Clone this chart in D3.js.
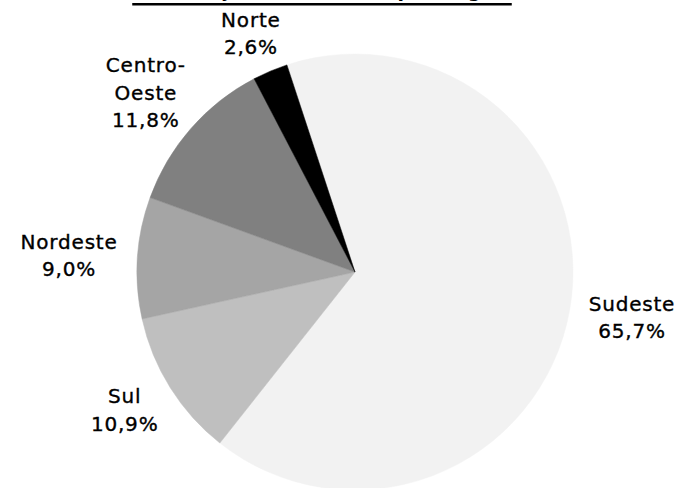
<!DOCTYPE html>
<html>
<head>
<meta charset="utf-8">
<script src="https://cdn.jsdelivr.net/npm/d3@7"></script>
<style>
	html, body { margin: 0; padding: 0; background: #fff; }
	svg { display: block; }
	text { font-family: "DejaVu Sans", Verdana, sans-serif; fill: #000; }
</style>
</head>
<body>
<svg id="grafico" width="678" height="488"></svg>
<script>
// dados (ordem horária a partir do Sudeste)
const regioes = ["Sudeste", "Sul", "Nordeste", "Centro-Oeste", "Norte"];
const percentuais = [65.7, 10.9, 9.0, 11.8, 2.6];
const rotulos = [["Sudeste"], ["Sul"], ["Nordeste"], ["Centro-", "Oeste"], ["Norte"]];
const cores = ["#f2f2f2", "#bfbfbf", "#a5a5a5", "#808080", "#000000"];
const titulo = "Distribuição do consumo por Região";

const width = 678, height = 488;
const cx = 355, cy = 272, raio = 218;
const raioRotulo = raio + 20;
const inicio = -18.2 * Math.PI / 180;
const tamFonte = 20, altCap = 14.6, alturaLinha = 27.5;

const svg = d3.select("#grafico");

// título (cortado no topo, como no original)
const tituloTxt = svg.append("text")
	.attr("x", 320)
	.attr("y", -3)
	.attr("text-anchor", "middle")
	.attr("font-weight", "bold")
	.attr("font-size", 19)
	.text(titulo);
const tb = tituloTxt.node().getBBox();
svg.append("rect")
	.attr("x", tb.x + 6)
	.attr("y", 3)
	.attr("width", tb.width - 8)
	.attr("height", 2.5)
	.attr("fill", "#000");

const dados = regioes.map((r, i) => ({ regiao: r, valor: percentuais[i], linhas: rotulos[i], cor: cores[i] }));

const pie = d3.pie()
	.sort(null)
	.value(d => d.valor)
	.startAngle(inicio)
	.endAngle(inicio + 2 * Math.PI);

const arc = d3.arc().innerRadius(0).outerRadius(raio);

const g = svg.append("g")
	.attr("transform", `translate(${cx},${cy})`);

const fatias = pie(dados);

g.selectAll("path.fatia")
	.data(fatias)
	.join("path")
	.attr("class", "fatia")
	.attr("fill", d => d.data.cor)
	.attr("stroke", d => d.data.cor)
	.attr("stroke-width", 0.5)
	.attr("d", arc);

const fmt = v => d3.format(".1f")(v).replace(".", ",") + "%";

const rotulo = g.selectAll("g.rotulo")
	.data(fatias)
	.join("g")
	.attr("class", "rotulo");

rotulo.each(function (d) {
	const el = d3.select(this);
	const linhas = d.data.linhas.concat([fmt(d.data.valor)]);
	const t = el.append("text")
		.attr("text-anchor", "middle")
		.attr("font-size", tamFonte)
		.attr("letter-spacing", 0.8)
		.attr("stroke", "#000")
		.attr("stroke-width", 0.35);
	linhas.forEach((l, k) => {
		t.append("tspan")
			.attr("x", 0)
			.attr("y", k * alturaLinha)
			.text(l);
	});
	const bb = t.node().getBBox();
	// caixa do rótulo pela altura das maiúsculas
	const topo = -altCap, base = (linhas.length - 1) * alturaLinha;
	const h = base - topo;
	const a = (d.startAngle + d.endAngle) / 2;
	const ax = Math.sin(a) * raioRotulo;
	const ay = -Math.cos(a) * raioRotulo;
	const bx = ax + Math.sin(a) * bb.width / 2;
	const by = ay - Math.cos(a) * h / 2;
	el.attr("transform", `translate(${bx - (bb.x + bb.width / 2)},${by - (topo + h / 2)})`);
});
</script>
</body>
</html>
